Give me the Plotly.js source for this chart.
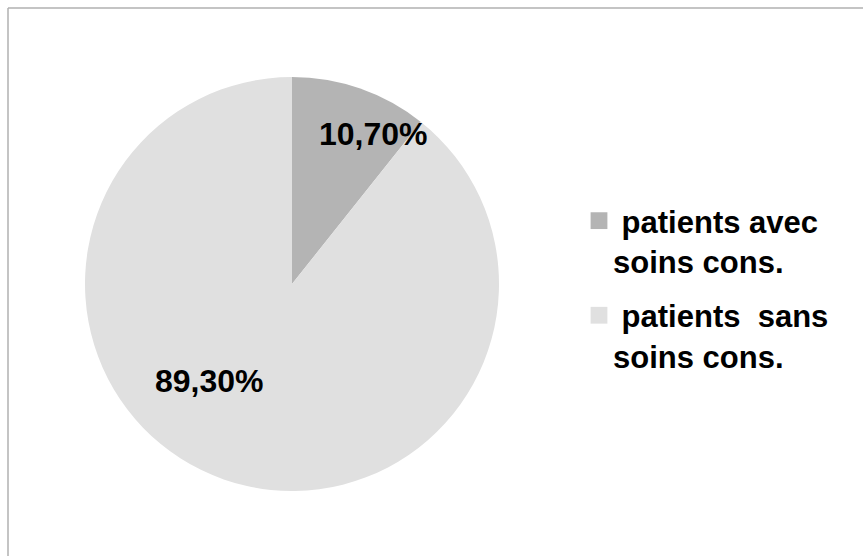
<!DOCTYPE html>
<html>
<head>
<meta charset="utf-8">
<script src="https://cdn.plot.ly/plotly-3.0.1.min.js"></script>
<style>html,body{margin:0;padding:0;background:#fff;}#chart{width:863px;height:556px;}</style>
</head>
<body>
<div id="chart"></div>
<script>
const categories = ["\u00a0patients avec<br>soins cons.", "\u00a0patients\u00a0 sans<br>soins cons."];
const values = [10.7, 89.3];
const sliceColors = ["#b4b4b4", "#e0e0e0"];
const labelText = values.map(v => v.toFixed(2).replace(".", ",") + "%");
const labelPos = [[373, 134], [209, 381]];

const W = 863, H = 556;
const font = {family: "Liberation Sans, Arial, sans-serif", size: 32, color: "#000", weight: "bold"};
const legendFont = {family: "Liberation Sans, Arial, sans-serif", size: 31, color: "#000", weight: "bold"};

const trace = {
  type: "pie",
  labels: categories,
  values: values,
  sort: false,
  direction: "clockwise",
  rotation: 0,
  marker: {colors: sliceColors, line: {width: 0}},
  textinfo: "none",
  hoverinfo: "label+percent",
  domain: {x: [85 / W, 499 / W], y: [1 - 491 / H, 1 - 77 / H]}
};

const annotations = labelText.map((t, i) => ({
  text: t, xref: "paper", yref: "paper",
  x: labelPos[i][0] / W, y: 1 - labelPos[i][1] / H,
  xanchor: "center", yanchor: "middle", showarrow: false, font: font
}));

const layout = {
  width: W, height: H,
  margin: {l: 0, r: 0, t: 0, b: 0},
  paper_bgcolor: "#fff",
  showlegend: true,
  legend: {x: 573 / W, y: 1 - 194 / H, xanchor: "left", yanchor: "top", valign: "top", font: legendFont, tracegroupgap: 0, itemclick: false},
  annotations: annotations,
  shapes: [
    {type: "line", xref: "paper", yref: "paper", x0: 8 / W, x1: 1, y0: 1 - 8 / H, y1: 1 - 8 / H, line: {color: "#b0b0b0", width: 1.5}},
    {type: "line", xref: "paper", yref: "paper", x0: 8 / W, x1: 8 / W, y0: 0, y1: 1 - 8 / H, line: {color: "#b0b0b0", width: 1.5}}
  ]
};

function tweakLegend(gd) {
  gd.querySelectorAll(".legend .legendpoints path").forEach(p => {
    p.setAttribute("transform", "translate(26,0) scale(1.4)");
  });
  const items = gd.querySelectorAll(".legend .traces");
  items.forEach((g, i) => {
    const tr = g.getAttribute("transform") || "";
    const m = tr.match(/translate\(([-\d.]+),\s*([-\d.]+)\)/);
    if (m && i > 0 && !g.dataset.shifted) {
      g.setAttribute("transform", "translate(" + m[1] + "," + (parseFloat(m[2]) + 11 * i) + ")");
      g.dataset.shifted = "1";
    }
  });
}

Plotly.newPlot("chart", [trace], layout, {displayModeBar: false, staticPlot: true}).then(gd => tweakLegend(gd));
</script>
</body>
</html>
